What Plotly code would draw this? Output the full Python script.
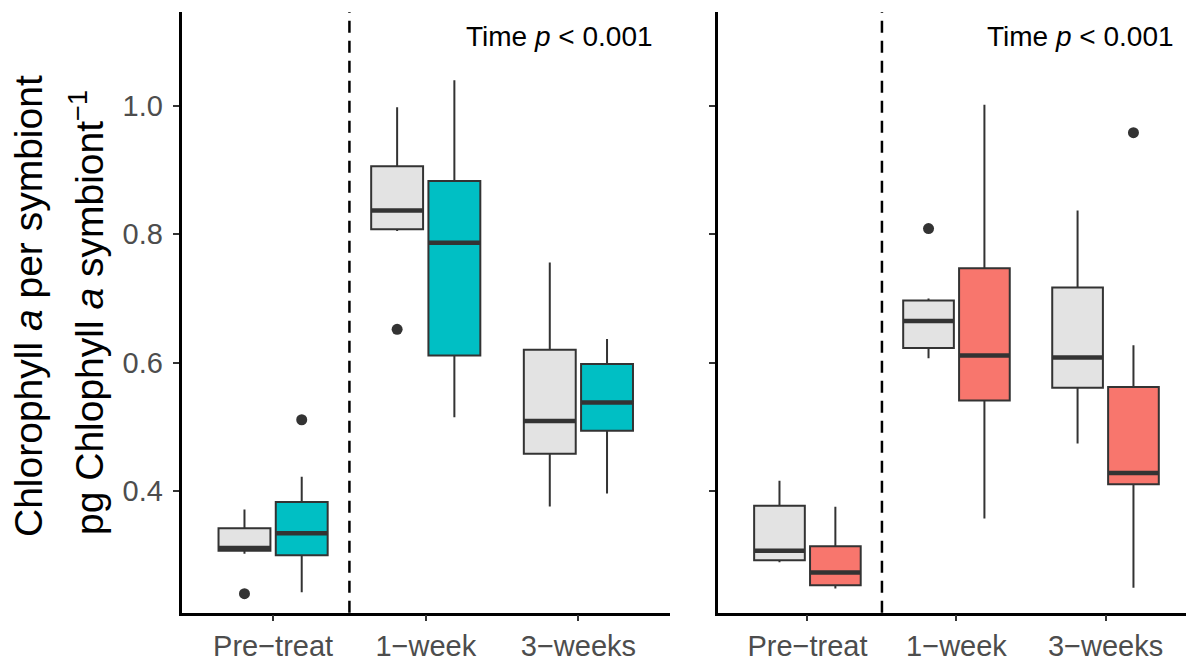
import plotly.graph_objects as go

# Sampling times (category order on both panels)
categories = ["Pre\u2212treat", "1\u2212week", "3\u2212weeks"]

# Left panel: control (grey) vs treatment (teal) – box statistics
left_ctrl_low = [0.302, 0.805, 0.376]
left_ctrl_q1 = [0.307, 0.808, 0.458]
left_ctrl_med = [0.311, 0.837, 0.509]
left_ctrl_q3 = [0.342, 0.906, 0.620]
left_ctrl_high = [0.371, 0.998, 0.756]
left_ctrl_out_cat = [0, 1]
left_ctrl_out_val = [0.240, 0.652]

left_trt_low = [0.242, 0.515, 0.396]
left_trt_q1 = [0.300, 0.611, 0.494]
left_trt_med = [0.334, 0.787, 0.538]
left_trt_q3 = [0.383, 0.883, 0.598]
left_trt_high = [0.422, 1.040, 0.637]
left_trt_out_cat = [0]
left_trt_out_val = [0.511]

# Right panel: control (grey) vs treatment (salmon)
right_ctrl_low = [0.289, 0.607, 0.474]
right_ctrl_q1 = [0.292, 0.623, 0.561]
right_ctrl_med = [0.307, 0.665, 0.608]
right_ctrl_q3 = [0.377, 0.697, 0.717]
right_ctrl_high = [0.416, 0.700, 0.837]
right_ctrl_out_cat = [1]
right_ctrl_out_val = [0.809]

right_trt_low = [0.248, 0.357, 0.249]
right_trt_q1 = [0.253, 0.541, 0.4105]
right_trt_med = [0.273, 0.611, 0.428]
right_trt_q3 = [0.314, 0.747, 0.562]
right_trt_high = [0.3755, 1.002, 0.627]
right_trt_out_cat = [2]
right_trt_out_val = [0.9585]

y_ticks = [0.4, 0.6, 0.8, 1.0]
stat_label = "Time <i>p</i> &lt; 0.001"

# Styling
GREY_FILL = "#E3E3E3"
TEAL = "#00BFC4"
SALMON = "#F8766D"
EDGE = "#333333"
FONT = "Liberation Sans, Arial, Helvetica, sans-serif"
W, H = 1186, 660
DODGE = 0.1875
BOX_W = 0.34

fig = go.Figure()


def add_group(xref, yref, offset, fill, low, q1, med, q3, high, out_cat, out_val):
    pos = [i + offset for i in range(len(categories))]
    fig.add_trace(go.Box(
        x=pos, q1=q1, median=med, q3=q3, lowerfence=low, upperfence=high,
        width=BOX_W, whiskerwidth=0, fillcolor=fill,
        line=dict(color=EDGE, width=2), boxpoints=False,
        xaxis=xref, yaxis=yref, showlegend=False, hoverinfo="skip",
    ))
    # thicker median bar
    mx, my = [], []
    for p, m in zip(pos, med):
        mx += [p - BOX_W / 2, p + BOX_W / 2, None]
        my += [m, m, None]
    fig.add_trace(go.Scatter(
        x=mx, y=my, mode="lines", line=dict(color=EDGE, width=4.5),
        xaxis=xref, yaxis=yref, showlegend=False, hoverinfo="skip",
    ))
    fig.add_trace(go.Scatter(
        x=[c + offset for c in out_cat], y=out_val, mode="markers",
        marker=dict(color=EDGE, size=11),
        xaxis=xref, yaxis=yref, showlegend=False, hoverinfo="skip",
    ))


add_group("x", "y", -DODGE, GREY_FILL, left_ctrl_low, left_ctrl_q1, left_ctrl_med,
          left_ctrl_q3, left_ctrl_high, left_ctrl_out_cat, left_ctrl_out_val)
add_group("x", "y", DODGE, TEAL, left_trt_low, left_trt_q1, left_trt_med,
          left_trt_q3, left_trt_high, left_trt_out_cat, left_trt_out_val)
add_group("x2", "y2", -DODGE, GREY_FILL, right_ctrl_low, right_ctrl_q1, right_ctrl_med,
          right_ctrl_q3, right_ctrl_high, right_ctrl_out_cat, right_ctrl_out_val)
add_group("x2", "y2", DODGE, SALMON, right_trt_low, right_trt_q1, right_trt_med,
          right_trt_q3, right_trt_high, right_trt_out_cat, right_trt_out_val)

# panel geometry in pixels (paper spans the full page, no margins)
y_dom = [1 - 612.7 / H, 1 - 12 / H]
y_rng = [0.2103, 1.1465]

x_common = dict(
    tickmode="array", tickvals=list(range(len(categories))), ticktext=categories,
    showline=True, linecolor="black", linewidth=2.5, mirror=False,
    ticks="outside", ticklen=6, tickwidth=2, tickcolor=EDGE,
    tickfont=dict(family=FONT, size=29, color="#4D4D4D"),
    showgrid=False, zeroline=False, automargin=False, fixedrange=True,
    ticklabelstandoff=0,
)
y_common = dict(
    range=y_rng, domain=y_dom, tickvals=y_ticks,
    showline=True, linecolor="black", linewidth=2.5,
    ticks="outside", ticklen=6, tickwidth=2, tickcolor=EDGE,
    tickfont=dict(family=FONT, size=29, color="#4D4D4D"),
    showgrid=False, zeroline=False, automargin=False, fixedrange=True,
    ticklabelstandoff=4,
)

fig.update_layout(
    width=W, height=H,
    margin=dict(l=0, r=0, t=0, b=0),
    paper_bgcolor="white", plot_bgcolor="white",
    boxmode="overlay",
    xaxis=dict(x_common, domain=[181.5 / W, 670 / W], range=[-0.6, 2.6], anchor="y"),
    xaxis2=dict(x_common, domain=[718 / W, 1.0], range=[-0.6, 2.54], anchor="y2"),
    yaxis=dict(y_common, tickformat=".1f", anchor="x"),
    yaxis2=dict(y_common, showticklabels=False, anchor="x2"),
)

# dashed separator between the baseline and post-treatment samples
split_at = (0 + 1) / 2
for xr, yr in (("x", "y domain"), ("x2", "y2 domain")):
    fig.add_shape(type="line", xref=xr, yref=yr, x0=split_at, x1=split_at, y0=0, y1=1,
                  line=dict(color="black", width=2.5, dash="12px,8px"))

# significance labels
for xp in (655 / W, 1176 / W):
    fig.add_annotation(x=xp, y=1 - 36 / H, xref="paper", yref="paper",
                       xanchor="right", yanchor="middle", showarrow=False,
                       text=stat_label, font=dict(family=FONT, size=28, color="black"))

# two-line y-axis title
fig.add_annotation(x=28 / W, y=1 - 306 / H, xref="paper", yref="paper",
                   xanchor="center", yanchor="middle", showarrow=False, textangle=-90,
                   text="Chlorophyll <i>a</i> per symbiont",
                   font=dict(family=FONT, size=39, color="black"))
fig.add_annotation(x=86 / W, y=1 - 313 / H, xref="paper", yref="paper",
                   xanchor="center", yanchor="middle", showarrow=False, textangle=-90,
                   text="pg Chlophyll <i>a</i> symbiont<sup>\u22121</sup>",
                   font=dict(family=FONT, size=39, color="black"))

fig.write_html("out.html")
